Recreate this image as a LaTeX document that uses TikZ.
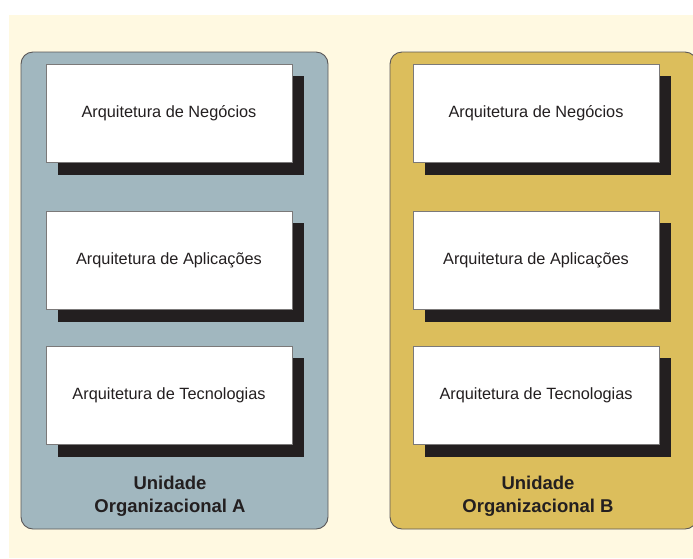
\documentclass[tikz,border=0pt]{standalone}
\usepackage{fontspec}
\setmainfont{Liberation Sans}
\definecolor{cream}{HTML}{FFF9E1}
\definecolor{unitA}{HTML}{A1B7BF}
\definecolor{unitB}{HTML}{DCBE5C}
\definecolor{ink}{HTML}{231F20}
\tikzset{
  unitbox/.style={draw=ink!75, line width=0.9pt, rounded corners=12pt},
  archbox/.style={draw=ink!60, fill=white, line width=0.7pt, minimum width=246pt, minimum height=98pt, inner sep=0pt,
    font=\fontsize{16.3}{18}\selectfont, text=ink},
  shadowbox/.style={fill=ink, draw=none},
  unitlabel/.style={font=\bfseries\fontsize{18.5}{23}\selectfont, text=ink, align=center}
}
\begin{document}
\begin{tikzpicture}[x=1pt,y=-1pt]
\useasboundingbox (0,0) rectangle (693,558);
\fill[white] (0,0) rectangle (693,558);
\fill[cream] (9,15) rectangle (693,558);
% unit boxes
\draw[unitbox, fill=unitA] (21,52) rectangle (328,529);
\draw[unitbox, fill=unitB] (390,52) rectangle (697,529);
% shadows and boxes
\foreach \cx/\cy/\nm/\txt in {169/113/a1/{Arquitetura de Negócios},169/260/a2/{Arquitetura de Aplicações},169/395/a3/{Arquitetura de Tecnologias},536/113/b1/{Arquitetura de Negócios},536/260/b2/{Arquitetura de Aplicações},536/395/b3/{Arquitetura de Tecnologias}}{
  \fill[shadowbox] (\cx-111,\cy-37) rectangle (\cx+135,\cy+62);
  \node[archbox] (\nm) at (\cx,\cy) {\txt};
}
\node[unitlabel] (la) at (170,496) {Unidade\\Organizacional A};
\node[unitlabel] (lb) at (538,496) {Unidade\\Organizacional B};
\end{tikzpicture}
\end{document}
